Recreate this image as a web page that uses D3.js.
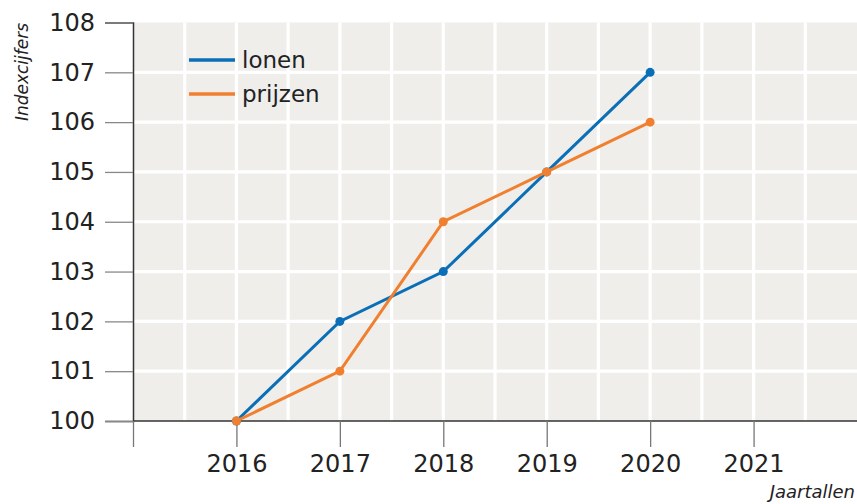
<!DOCTYPE html>
<html>
<head>
<meta charset="utf-8">
<script src="https://cdn.jsdelivr.net/npm/d3@7"></script>
<style>
body { margin: 0; background: #fff; }
svg { display: block; }
</style>
</head>
<body>
<svg id="chart" width="857" height="504"></svg>
<script>
const years = [2016, 2017, 2018, 2019, 2020];
const lonen = [100, 102, 103, 105, 107];
const prijzen = [100, 101, 104, 105, 106];
const xTicks = [2015, 2016, 2017, 2018, 2019, 2020, 2021];
const xTickLabels = ["", "2016", "2017", "2018", "2019", "2020", "2021"];
const yTicks = [100, 101, 102, 103, 104, 105, 106, 107, 108];
const seriesNames = ["lonen", "prijzen"];
const colors = ["#0a6fb7", "#f08030"];

const svg = d3.select("#chart");
const font = "DejaVu Sans, sans-serif";
const x = d3.scaleLinear().domain([2015, 2022]).range([133, 857]);
const y = d3.scaleLinear().domain([100, 108]).range([421, 22.5]);

// background
svg.append("rect").attr("x", x(2015)).attr("y", y(108))
  .attr("width", x(2022) - x(2015)).attr("height", y(100) - y(108))
  .attr("fill", "#efeeeb");

// grid
const vGrid = d3.range(2015.5, 2022, 0.5);
svg.append("g").selectAll("line").data(vGrid).join("line")
  .attr("x1", d => x(d)).attr("x2", d => x(d))
  .attr("y1", y(108)).attr("y2", y(100))
  .attr("stroke", "#fff").attr("stroke-width", 3.2);
svg.append("g").selectAll("line").data(yTicks.slice(1, -1)).join("line")
  .attr("x1", x(2015)).attr("x2", x(2022))
  .attr("y1", d => y(d)).attr("y2", d => y(d))
  .attr("stroke", "#fff").attr("stroke-width", 3.2);

// y axis
const yAxis = svg.append("g").attr("transform", `translate(${x(2015)},0)`)
  .call(d3.axisLeft(y).tickValues(yTicks).tickSize(28).tickPadding(10).tickFormat(d3.format("d")));
yAxis.select(".domain").attr("stroke", "#333").attr("stroke-width", 1.5);
yAxis.selectAll(".tick line").attr("stroke", "#888").attr("stroke-width", 1.3);
yAxis.selectAll(".tick text").attr("font-family", font).attr("font-size", 24).attr("fill", "#222");

// x axis
const xAxis = svg.append("g").attr("transform", `translate(0,${y(100)})`)
  .call(d3.axisBottom(x).tickValues(xTicks).tickSize(26).tickPadding(8)
    .tickFormat((d, i) => xTickLabels[i]));
xAxis.select(".domain").attr("d", `M${x(2015)},0H${x(2022)}`).attr("stroke", "#333").attr("stroke-width", 1.5);
xAxis.selectAll(".tick line").attr("stroke", "#777").attr("stroke-width", 1.3);
xAxis.selectAll(".tick text").attr("font-family", font).attr("font-size", 24).attr("fill", "#222");

// lines
const data = [lonen, prijzen];
const line = d3.line().x((d, i) => x(years[i])).y(d => y(d));
data.forEach((vals, k) => {
  svg.append("path").datum(vals).attr("d", line)
    .attr("fill", "none").attr("stroke", colors[k]).attr("stroke-width", 3);
  svg.append("g").selectAll("circle").data(vals).join("circle")
    .attr("cx", (d, i) => x(years[i])).attr("cy", d => y(d)).attr("r", 4.5)
    .attr("fill", colors[k]);
});

// legend
const legY = [60, 94];
seriesNames.forEach((name, k) => {
  svg.append("line").attr("x1", 189).attr("x2", 235)
    .attr("y1", legY[k]).attr("y2", legY[k])
    .attr("stroke", colors[k]).attr("stroke-width", 3.5);
  svg.append("text").attr("x", 242).attr("y", legY[k]).attr("dy", "0.35em")
    .attr("font-family", font).attr("font-size", 23).attr("fill", "#222").text(name);
});

// axis titles
svg.append("text").attr("transform", "translate(28,72) rotate(-90)")
  .attr("text-anchor", "middle").attr("font-family", font).attr("font-style", "italic")
  .attr("font-size", 17).attr("fill", "#222").text("Indexcijfers");
svg.append("text").attr("x", 855).attr("y", 498)
  .attr("text-anchor", "end").attr("font-family", font).attr("font-style", "italic")
  .attr("font-size", 18).attr("fill", "#222").text("Jaartallen");
</script>
</body>
</html>
